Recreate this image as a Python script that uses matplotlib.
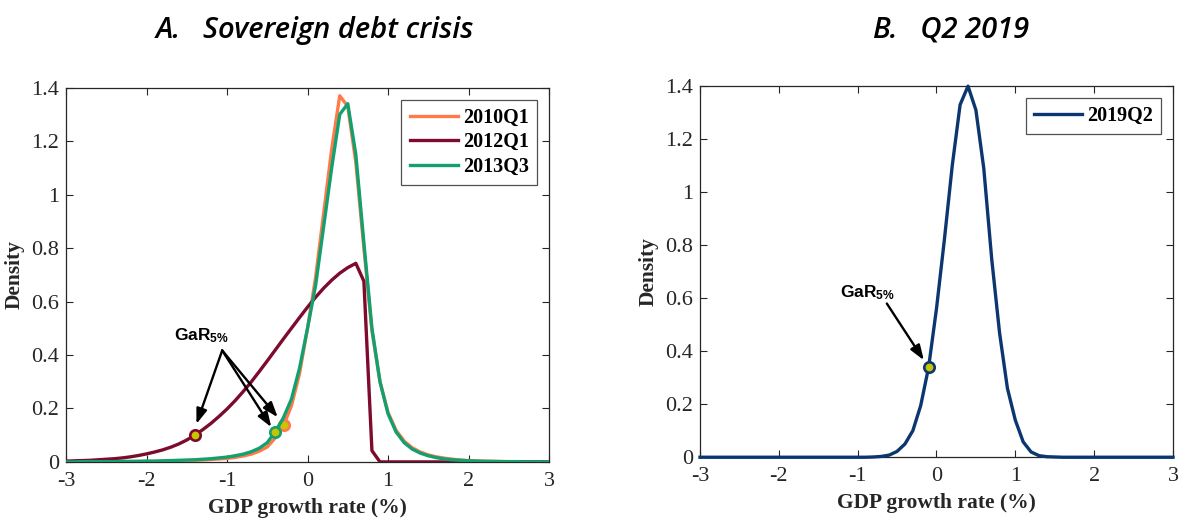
import numpy as np
import matplotlib
matplotlib.use("Agg")
import matplotlib.pyplot as plt

plt.rcParams['font.family'] = ['Liberation Serif', 'DejaVu Serif']
plt.rcParams['axes.unicode_minus'] = False
plt.rcParams['mathtext.fontset'] = 'custom'
plt.rcParams['mathtext.bf'] = 'Liberation Sans:bold'
plt.rcParams['mathtext.rm'] = 'Liberation Sans'

# grid of GDP growth values (-3 .. 3, step 0.1)
growth = np.round(np.arange(-3.0, 3.05, 0.1), 1)

dens_2010q1 = [0.000, 0.000, 0.000, 0.000, 0.001, 0.001, 0.001, 0.001, 0.001, 0.002,
               0.002, 0.002, 0.003, 0.003, 0.004, 0.005, 0.006, 0.007, 0.009, 0.011,
               0.013, 0.017, 0.022, 0.029, 0.040, 0.056, 0.090, 0.135, 0.210, 0.330,
               0.500, 0.690, 0.930, 1.170, 1.370, 1.330, 1.120, 0.800, 0.490, 0.300,
               0.185, 0.118, 0.078, 0.053, 0.037, 0.026, 0.019, 0.014, 0.010, 0.007,
               0.005, 0.004, 0.003, 0.002, 0.002, 0.001, 0.001, 0.001, 0.000, 0.000,
               0.000]
dens_2012q1 = [0.003, 0.004, 0.005, 0.006, 0.008, 0.010, 0.012, 0.015, 0.019, 0.024,
               0.030, 0.037, 0.045, 0.055, 0.067, 0.082, 0.100, 0.121, 0.144, 0.170,
               0.198, 0.229, 0.263, 0.299, 0.338, 0.378, 0.419, 0.460, 0.500, 0.540,
               0.579, 0.616, 0.650, 0.680, 0.706, 0.727, 0.743, 0.676, 0.042, 0.000,
               0.000, 0.000, 0.000, 0.000, 0.000, 0.000, 0.000, 0.000, 0.000, 0.000,
               0.000, 0.000, 0.000, 0.000, 0.000, 0.000, 0.000, 0.000, 0.000, 0.000,
               0.000]
dens_2013q3 = [0.000, 0.000, 0.001, 0.001, 0.001, 0.001, 0.001, 0.002, 0.002, 0.002,
               0.003, 0.003, 0.004, 0.005, 0.006, 0.007, 0.008, 0.010, 0.012, 0.015,
               0.018, 0.023, 0.029, 0.038, 0.051, 0.072, 0.114, 0.165, 0.235, 0.350,
               0.500, 0.660, 0.880, 1.100, 1.300, 1.340, 1.150, 0.820, 0.500, 0.300,
               0.180, 0.112, 0.072, 0.048, 0.033, 0.023, 0.016, 0.011, 0.008, 0.006,
               0.004, 0.003, 0.002, 0.002, 0.001, 0.001, 0.001, 0.000, 0.000, 0.000,
               0.000]
dens_2019q2 = [0.000, 0.000, 0.000, 0.000, 0.000, 0.000, 0.000, 0.000, 0.000, 0.000,
               0.000, 0.000, 0.000, 0.000, 0.000, 0.000, 0.000, 0.000, 0.000, 0.000,
               0.000, 0.000, 0.001, 0.003, 0.008, 0.022, 0.050, 0.100, 0.195, 0.339,
               0.560, 0.820, 1.100, 1.330, 1.400, 1.310, 1.090, 0.750, 0.470, 0.260,
               0.140, 0.058, 0.020, 0.006, 0.002, 0.001, 0.000, 0.000, 0.000, 0.000,
               0.000, 0.000, 0.000, 0.000, 0.000, 0.000, 0.000, 0.000, 0.000, 0.000,
               0.000]

# GaR 5% points
gar_x = {'2010Q1': -0.29, '2012Q1': -1.40, '2013Q3': -0.41, '2019Q2': -0.10}
gar_y = {'2010Q1': 0.139, '2012Q1': 0.101, '2013Q3': 0.111, '2019Q2': 0.339}

colors = {'2010Q1': '#FF7A4A', '2012Q1': '#7D0B2D', '2013Q3': '#12A06E', '2019Q2': '#0C3670'}
dot_fill = '#C8C400'
axis_col = '#262626'


def style_axes(ax):
    ax.set_xlim(-3, 3)
    ax.set_ylim(0, 1.4)
    ax.set_xticks([-3, -2, -1, 0, 1, 2, 3])
    ax.set_yticks([0, 0.2, 0.4, 0.6, 0.8, 1.0, 1.2, 1.4])
    ax.set_yticklabels(['0', '0.2', '0.4', '0.6', '0.8', '1', '1.2', '1.4'])
    ax.tick_params(direction='in', top=True, right=True, length=5, width=0.8,
                   labelsize=16, colors=axis_col, pad=5)
    ax.tick_params(axis='x', pad=7)
    for s in ax.spines.values():
        s.set_color(axis_col)
        s.set_linewidth(0.9)
    ax.set_xlabel('GDP growth rate (%)', fontsize=15.5, fontweight='bold',
                  color=axis_col, labelpad=5)
    ax.set_ylabel('Density', fontsize=15.5, fontweight='bold', color=axis_col, labelpad=5)


fig = plt.figure(figsize=(11.81, 5.19), dpi=100)
ax1 = fig.add_axes([0.0559, 0.110, 0.409, 0.721])
ax2 = fig.add_axes([0.5927, 0.119, 0.4005, 0.715])

series_a = [('2010Q1', dens_2010q1), ('2012Q1', dens_2012q1), ('2013Q3', dens_2013q3)]
for i, (name, dens) in enumerate(series_a):
    ax1.plot(growth, dens, color=colors[name], lw=2.4, label=name, zorder=3 + i)
    ax1.plot(gar_x[name], gar_y[name], 'o', ms=7.5, mfc=dot_fill, mec=colors[name],
             mew=1.9, zorder=3 + i)

ax2.plot(growth, dens_2019q2, color=colors['2019Q2'], lw=2.4, label='2019Q2',
         zorder=3, clip_on=False)
ax2.plot(gar_x['2019Q2'], gar_y['2019Q2'], 'o', ms=7.5, mfc=dot_fill,
         mec=colors['2019Q2'], mew=1.9, zorder=4)

for ax in (ax1, ax2):
    style_axes(ax)
    leg = ax.legend(loc='upper right', prop={'family': 'Liberation Serif', 'weight': 'bold', 'size': 14.5},
                    fancybox=False, edgecolor=axis_col, handlelength=2.4,
                    handletextpad=0.25, borderpad=0.4, labelspacing=0.22,
                    borderaxespad=0.6)
    leg.get_frame().set_linewidth(0.9)

arrow = dict(arrowstyle='-|>,head_length=0.9,head_width=0.32', color='k', lw=1.7,
             shrinkA=0, shrinkB=0)

ax1.text(-1.66, 0.455, r'$\mathbf{GaR_{5\%}}$', fontsize=12.5, ha='left', va='baseline')
ax1.annotate('', xy=(-1.38, 0.142), xytext=(-1.06, 0.417), arrowprops=arrow, zorder=8)
ax1.annotate('', xy=(-0.45, 0.130), xytext=(-1.06, 0.417), arrowprops=arrow, zorder=8)
ax1.annotate('', xy=(-0.37, 0.167), xytext=(-1.06, 0.417), arrowprops=arrow, zorder=8)

ax2.text(-1.23, 0.605, r'$\mathbf{GaR_{5\%}}$', fontsize=12.5, ha='left', va='baseline')
ax2.annotate('', xy=(-0.16, 0.366), xytext=(-0.63, 0.58), arrowprops=arrow, zorder=8)

fig.text(0.267, 0.942, 'A.   Sovereign debt crisis', fontsize=21, style='italic',
         weight='semibold', family='Open Sans', ha='center', va='center')
fig.text(0.805, 0.942, 'B.   Q2 2019', fontsize=21, style='italic',
         weight='semibold', family='Open Sans', ha='center', va='center')

fig.savefig('out.png', dpi=100)
